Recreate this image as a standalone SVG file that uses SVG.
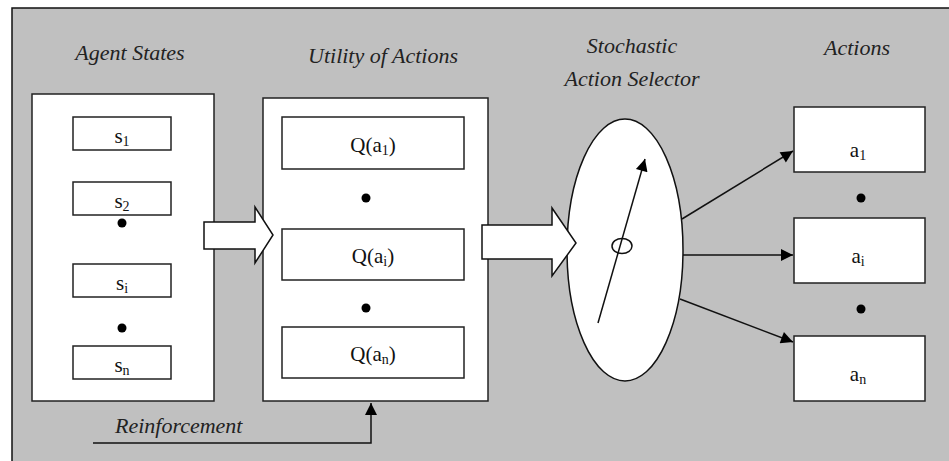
<svg xmlns="http://www.w3.org/2000/svg" width="949" height="461" viewBox="0 0 949 461" font-family="Liberation Serif, Times New Roman, serif">
<defs>
<marker id="ah" viewBox="0 0 10 10" refX="10" refY="5" markerWidth="16" markerHeight="12" markerUnits="userSpaceOnUse" orient="auto"><path d="M0,0 L10,5 L0,10 Z" fill="#000"/></marker>
</defs>
<rect x="0" y="0" width="949" height="461" fill="#fff"/>
<rect x="12" y="8" width="937" height="453" fill="#c0c0c0"/>
<path d="M12,461 V8 H949" fill="none" stroke="#111" stroke-width="1.5"/>

<g font-size="22" font-style="italic" fill="#222">
<text font-family="Times New Roman, Liberation Serif, serif" x="130" y="60" text-anchor="middle">Agent States</text>
<text font-family="Times New Roman, Liberation Serif, serif" x="383" y="63" text-anchor="middle">Utility of Actions</text>
<text font-family="Times New Roman, Liberation Serif, serif" x="632" y="53" text-anchor="middle">Stochastic</text>
<text font-family="Times New Roman, Liberation Serif, serif" x="632" y="86" text-anchor="middle">Action Selector</text>
<text font-family="Times New Roman, Liberation Serif, serif" x="857" y="55" text-anchor="middle">Actions</text>
<text font-family="Times New Roman, Liberation Serif, serif" x="115" y="433">Reinforcement</text>
</g>

<g id="agent-states" fill="#fff" stroke="#222" stroke-width="1.5">
<rect x="32" y="94" width="182" height="307"/>
<g id="s1"><rect x="73" y="117" width="98" height="33"/><text font-family="Times New Roman, Liberation Serif, serif" font-size="21" fill="#111" stroke="none" text-anchor="middle" x="122" y="143">s<tspan font-size="14" dy="3">1</tspan></text></g>
<g id="s2"><rect x="73" y="182" width="98" height="33"/><text font-family="Times New Roman, Liberation Serif, serif" font-size="21" fill="#111" stroke="none" text-anchor="middle" x="122" y="208">s<tspan font-size="14" dy="3">2</tspan></text></g>
<circle cx="122" cy="223" r="4.5" fill="#000" stroke="none"/>
<g id="si"><rect x="73" y="264" width="98" height="33"/><text font-family="Times New Roman, Liberation Serif, serif" font-size="21" fill="#111" stroke="none" text-anchor="middle" x="122" y="290">s<tspan font-size="14" dy="3">i</tspan></text></g>
<circle cx="122" cy="328" r="4.5" fill="#000" stroke="none"/>
<g id="sn"><rect x="73" y="346" width="98" height="33"/><text font-family="Times New Roman, Liberation Serif, serif" font-size="21" fill="#111" stroke="none" text-anchor="middle" x="122" y="372">s<tspan font-size="14" dy="3">n</tspan></text></g>
</g>

<g id="utility" fill="#fff" stroke="#222" stroke-width="1.5">
<rect x="263" y="98" width="225" height="303"/>
<g id="q1"><rect x="282" y="117" width="182" height="52"/><text font-family="Times New Roman, Liberation Serif, serif" font-size="21" fill="#111" stroke="none" text-anchor="middle" x="373" y="152">Q(a<tspan font-size="14" dy="3">1</tspan><tspan dy="-3">)</tspan></text></g>
<circle cx="366" cy="198" r="4.5" fill="#000" stroke="none"/>
<g id="qi"><rect x="282" y="229" width="182" height="51"/><text font-family="Times New Roman, Liberation Serif, serif" font-size="21" fill="#111" stroke="none" text-anchor="middle" x="373" y="263">Q(a<tspan font-size="14" dy="3">i</tspan><tspan dy="-3">)</tspan></text></g>
<circle cx="366" cy="308" r="4.5" fill="#000" stroke="none"/>
<g id="qn"><rect x="282" y="327" width="182" height="51"/><text font-family="Times New Roman, Liberation Serif, serif" font-size="21" fill="#111" stroke="none" text-anchor="middle" x="373" y="361">Q(a<tspan font-size="14" dy="3">n</tspan><tspan dy="-3">)</tspan></text></g>
</g>

<g id="selector" stroke="#111" stroke-width="1.5">
<ellipse cx="625" cy="250" rx="58" ry="131" fill="#fff"/>
<ellipse cx="622" cy="246" rx="10" ry="7.5" fill="none"/>
<line x1="598" y1="323" x2="645" y2="159" marker-end="url(#ah)"/>
</g>

<g id="actions" fill="#fff" stroke="#222" stroke-width="1.5">
<g id="a1"><rect x="794" y="107" width="131" height="65"/><text font-family="Times New Roman, Liberation Serif, serif" font-size="21" fill="#111" stroke="none" text-anchor="middle" x="858" y="157">a<tspan font-size="14" dy="3">1</tspan></text></g>
<circle cx="861" cy="198" r="4.5" fill="#000" stroke="none"/>
<g id="ai"><rect x="794" y="218" width="131" height="65"/><text font-family="Times New Roman, Liberation Serif, serif" font-size="21" fill="#111" stroke="none" text-anchor="middle" x="858" y="263">a<tspan font-size="14" dy="3">i</tspan></text></g>
<circle cx="861" cy="309" r="4.5" fill="#000" stroke="none"/>
<g id="an"><rect x="794" y="336" width="131" height="65"/><text font-family="Times New Roman, Liberation Serif, serif" font-size="21" fill="#111" stroke="none" text-anchor="middle" x="858" y="381">a<tspan font-size="14" dy="3">n</tspan></text></g>
</g>

<g id="connectors" stroke="#111" stroke-width="1.5" fill="none">
<path fill="#fff" d="M204,222 H255 V207 L273,235 L255,263 V249 H204 Z"/>
<path fill="#fff" d="M482,225 H552 V208 L576,243 L552,276 V259 H482 Z"/>
<line x1="682" y1="219" x2="793" y2="151" marker-end="url(#ah)"/>
<line x1="683" y1="255" x2="793" y2="255" marker-end="url(#ah)"/>
<line x1="680" y1="299" x2="793" y2="342" marker-end="url(#ah)"/>
<path d="M93,443 H371 V403" marker-end="url(#ah)"/>
</g>
</svg>
